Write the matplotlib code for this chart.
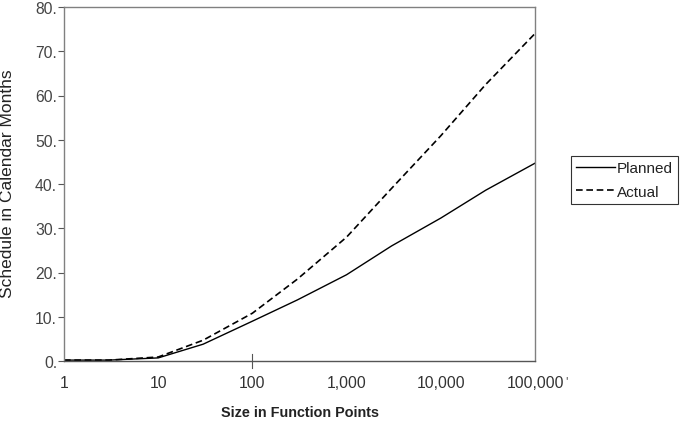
import numpy as np
import matplotlib.pyplot as plt

# Werte (Halbdekaden-Raster)
size_fp = [1, 3, 10, 30, 100, 300, 1000, 3000, 10000, 30000, 100000]
planned = [0.2, 0.2, 0.7, 3.8, 9.0, 13.8, 19.5, 26.0, 32.3, 38.6, 44.7]
actual = [0.2, 0.2, 0.9, 4.7, 10.8, 18.5, 28.0, 39.0, 50.9, 62.5, 74.0]

x_ticks = [1, 10, 100, 1000, 10000, 100000]
x_labels = ["1", "10", "100", "1,000", "10,000", "100,000"]
y_ticks = [0, 10, 20, 30, 40, 50, 60, 70, 80]
y_labels = ["0.", "10.", "20.", "30.", "40.", "50.", "60.", "70.", "80."]

plt.rcParams['font.family'] = ['Liberation Sans', 'DejaVu Sans']

fig = plt.figure(figsize=(6.81, 4.39), dpi=100)
ax = fig.add_axes([64 / 681, 1 - 362 / 439, (535 - 64) / 681, (362 - 8) / 439])

ax.plot(size_fp, planned, color='black', linewidth=1.0, label="Planned")
ax.plot(size_fp, actual, color='black', linewidth=1.2, linestyle=(0, (4, 2.2)), label="Actual")

ax.set_xscale('log')
ax.set_xlim(1, 100000)
ax.set_ylim(0, 80)
ax.set_xticks(x_ticks)
ax.set_xticklabels(x_labels)
ax.minorticks_off()
ax.set_yticks(y_ticks)
ax.set_yticklabels(y_labels)

ax.tick_params(axis='x', length=0, pad=10, labelsize=11.3, labelcolor='#333333')
ax.tick_params(axis='y', length=4, width=0.8, color='#555555', pad=1,
               labelsize=11.3, labelcolor='#444444')

for s in ax.spines.values():
    s.set_color('#808080')
    s.set_linewidth(1.0)
ax.spines['bottom'].set_color('#555555')

# einzelner Teilstrich bei 100
ax.plot([100, 100], [-1.5, 1.5], color='#555555', linewidth=0.8, clip_on=False)

fig.text(300 / 681, 1 - 413 / 439, "Size in Function Points", ha='center', va='center',
         fontsize=10.4, fontweight='bold', color='#222222')
fig.text(8 / 681, 1 - 184 / 439, "Schedule in Calendar Months", ha='center', va='center',
         rotation=90, fontsize=12.5, color='#222222')
fig.text(567 / 681, 1 - 382 / 439, "'", ha='center', va='center', fontsize=9, color='#555555')

leg = ax.legend(loc='upper left', bbox_to_anchor=(571 / 681, 1 - 157 / 439),
                bbox_transform=fig.transFigure, fontsize=11, frameon=True,
                fancybox=False, handlelength=2.55, handletextpad=0.1,
                borderpad=0.35, labelspacing=0.6, borderaxespad=0)
leg.get_frame().set_edgecolor('black')
leg.get_frame().set_linewidth(0.8)
for t in leg.get_texts():
    t.set_color('#222222')

fig.savefig("out.png", dpi=100)
